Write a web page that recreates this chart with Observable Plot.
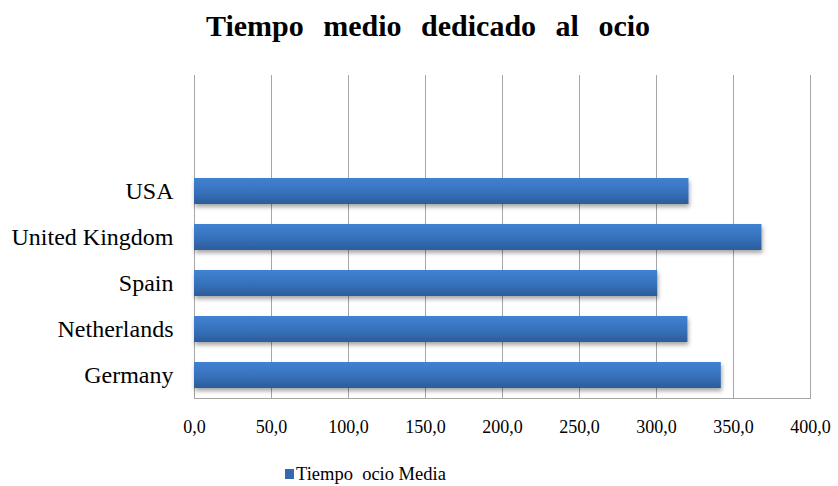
<!DOCTYPE html>
<html>
<head>
<meta charset="utf-8">
<script src="https://cdn.jsdelivr.net/npm/d3@7"></script>
<script src="https://cdn.jsdelivr.net/npm/@observablehq/plot@0.6"></script>
<style>
  html, body { margin: 0; padding: 0; background: #fff; }
  #wrap { position: relative; width: 838px; height: 486px; font-family: "Liberation Serif"; color: #000; overflow: hidden; }
  #title { position: absolute; left: 0; top: 0; width: 838px; text-align: center; font-family: "Liberation Serif"; font-weight: bold; font-size: 30px; line-height: 50px; padding-top: 1px; padding-left: 18px; box-sizing: border-box; word-spacing: 12px; }
  #chart { position: absolute; left: 0; top: 50px; }
  #legend { position: absolute; left: 285px; top: 461px; font-family: "Liberation Serif"; font-size: 18.5px; line-height: 26px; white-space: pre; display: flex; align-items: center; }
  #legend .sw { display: inline-block; width: 9px; height: 10px; background: #3569b0; margin-right: 2px; }
</style>
</head>
<body>
<div id="wrap">
  <div id="title">Tiempo medio dedicado al ocio</div>
  <div id="chart"></div>
  <div id="legend"><span class="sw"></span><span style="font-family:'Liberation Serif'">Tiempo  ocio Media</span></div>
</div>
<script>
const countries = ["USA", "United Kingdom", "Spain", "Netherlands", "Germany"];
const values = [321.1, 368.5, 300.8, 320.4, 342.1];
const emptySlots = ["", " "];
const xTicks = [0, 50, 100, 150, 200, 250, 300, 350, 400];
const seriesName = "Tiempo  ocio Media";

const data = countries.map((c, i) => ({country: c, value: values[i]}));
const fmt = v => v.toFixed(1).replace(".", ",");

const plot = Plot.plot({
  width: 838,
  height: 400,
  marginTop: 25,
  marginBottom: 52,
  marginLeft: 194,
  marginRight: 28,
  style: {fontFamily: "Liberation Serif", background: "transparent", color: "#000"},
  x: {domain: [0, 400], ticks: xTicks, tickFormat: fmt, label: null},
  y: {domain: [...emptySlots, ...countries], paddingInner: 0.435, paddingOuter: 0.2175, label: null},
  marks: [
    Plot.ruleX(xTicks, {stroke: "#a6a6a6", strokeWidth: 1}),
    Plot.frame({anchor: "bottom", stroke: "#a6a6a6"}),
    Plot.barX(data, {x: "value", y: "country", fill: "url(#barGrad)"}),
    Plot.axisX({ticks: xTicks, tickFormat: fmt, tickSize: 0, tickPadding: 22, fontSize: 18, label: null}),
    Plot.axisY({ticks: countries, tickSize: 0, tickPadding: 21, fontSize: 24, label: null})
  ]
});

const svg = d3.select(plot);
svg.attr("font-family", "Liberation Serif");
svg.selectAll("g").attr("font-family", "Liberation Serif");
svg.selectAll("text").attr("font-family", "Liberation Serif").style("font-family", "'Liberation Serif'");
const defs = svg.insert("defs", ":first-child");
const grad = defs.append("linearGradient").attr("id", "barGrad").attr("x1", 0).attr("y1", 0).attr("x2", 0).attr("y2", 1);
grad.append("stop").attr("offset", "0%").attr("stop-color", "#4182d2");
grad.append("stop").attr("offset", "55%").attr("stop-color", "#3671bb");
grad.append("stop").attr("offset", "100%").attr("stop-color", "#2c5c9a");
const filt = defs.append("filter").attr("id", "barShadow").attr("x", "-5%").attr("y", "-20%").attr("width", "110%").attr("height", "160%");
filt.append("feDropShadow").attr("dx", 1).attr("dy", 3).attr("stdDeviation", 2).attr("flood-color", "#000").attr("flood-opacity", 0.35);
svg.selectAll("g[aria-label=bar]").attr("filter", "url(#barShadow)");

document.getElementById("chart").appendChild(plot);
</script>
</body>
</html>
